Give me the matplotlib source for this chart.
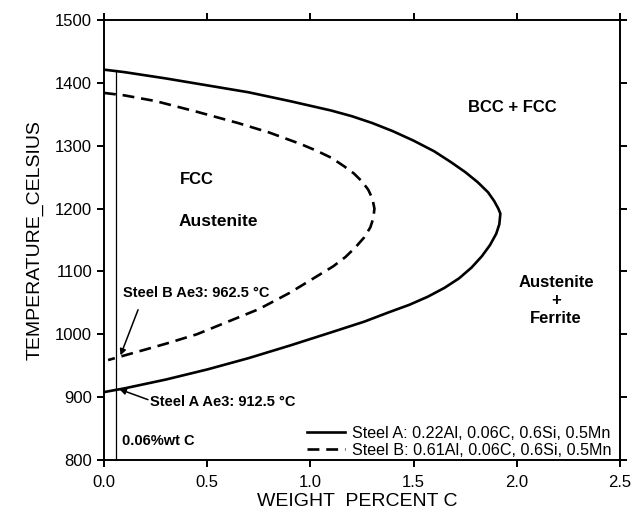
import matplotlib
matplotlib.use('Agg')
import matplotlib.pyplot as plt

plt.rcParams['font.family'] = ['Liberation Sans', 'DejaVu Sans']

# Steel A phase boundary (solid), traced from upper branch round the nose to lower branch
steelA_C = [0.00, 0.10, 0.30, 0.50, 0.70, 0.90, 1.10, 1.20, 1.30, 1.40, 1.50, 1.60, 1.68, 1.75, 1.81,
            1.86, 1.89, 1.91, 1.92, 1.915, 1.90, 1.87, 1.83, 1.78, 1.72, 1.65, 1.57, 1.48, 1.38,
            1.26, 1.10, 0.90, 0.70, 0.50, 0.30, 0.10, 0.00]
steelA_T = [1421, 1417, 1407, 1396, 1385, 1371, 1356, 1347, 1336, 1323, 1308, 1291, 1274, 1258, 1242,
            1226, 1212, 1200, 1192, 1175, 1160, 1142, 1124, 1106, 1089, 1074, 1060, 1047, 1035,
            1020, 1003, 982, 962, 944, 928, 914, 908]

# Steel B phase boundary (dashed)
steelB_C = [0.00, 0.10, 0.25, 0.45, 0.65, 0.80, 0.95, 1.03, 1.10, 1.16, 1.21, 1.25, 1.28, 1.30, 1.31,
            1.305, 1.29, 1.26, 1.22, 1.17, 1.11, 1.04, 0.97, 0.90, 0.75, 0.60, 0.45, 0.30, 0.15, 0.02]
steelB_T = [1384, 1380, 1371, 1354, 1336, 1321, 1303, 1292, 1281, 1268, 1256, 1243, 1230, 1216, 1200,
            1185, 1170, 1154, 1139, 1123, 1108, 1094, 1080, 1066, 1040, 1020, 1000, 985, 971, 959]

carbon_content = 0.06
ae3_A = 912.5
ae3_B = 962.5

labels = ['Steel A: 0.22Al, 0.06C, 0.6Si, 0.5Mn', 'Steel B: 0.61Al, 0.06C, 0.6Si, 0.5Mn']
xticks = [0.0, 0.5, 1.0, 1.5, 2.0, 2.5]
yticks = [800, 900, 1000, 1100, 1200, 1300, 1400, 1500]

fig = plt.figure(figsize=(6.36, 5.22), dpi=100)
ax = fig.add_axes([0.1635, 0.1188, 0.8115, 0.8429])

ax.plot(steelA_C, steelA_T, color='black', lw=1.9, label=labels[0])
ax.plot(steelB_C, steelB_T, color='black', lw=1.9, dashes=(4.5, 2.6), label=labels[1])

# vertical line at the steel carbon content
ax.plot([carbon_content, carbon_content], [800, steelA_T[0]], color='black', lw=0.9)

ax.set_xlim(0, 2.5)
ax.set_ylim(800, 1500)
ax.set_xticks(xticks)
ax.set_xticklabels(['%.1f' % t for t in xticks])
ax.set_yticks(yticks)
ax.tick_params(direction='out', length=5, width=1.4, labelsize=12,
               top=True, right=True, labeltop=False, labelright=False)
ax.tick_params(axis='x', pad=6)
for s in ax.spines.values():
    s.set_linewidth(1.4)

ax.set_xlabel('WEIGHT  PERCENT C', fontsize=14, labelpad=2)
ax.xaxis.set_label_coords(0.49, -0.075)
ax.set_ylabel('TEMPERATURE_CELSIUS', fontsize=14, labelpad=8)

# phase region labels
ax.text(0.368, 1247, 'FCC', fontsize=12, fontweight='bold', va='center')
ax.text(0.363, 1180, 'Austenite', fontsize=12.5, fontweight='bold', va='center')
ax.text(1.977, 1360, 'BCC + FCC', fontsize=12, fontweight='bold', ha='center', va='center')
ax.text(2.19, 1054, 'Austenite\n+\nFerrite', fontsize=12, fontweight='bold',
        ha='center', va='center', linespacing=1.25)

# Ae3 annotations
arrow = dict(arrowstyle='-|>', color='black', lw=1.1, mutation_scale=9, shrinkA=0, shrinkB=0)
ax.annotate('', xy=(0.08, ae3_B + 4), xytext=(0.165, 1039), arrowprops=arrow)
ax.text(0.092, 1066, 'Steel B Ae3: 962.5 \u00b0C', fontsize=10.5, fontweight='bold', va='center')
ax.annotate('', xy=(0.075, ae3_A), xytext=(0.213, 896), arrowprops=arrow)
ax.text(0.222, 892, 'Steel A Ae3: 912.5 \u00b0C', fontsize=10.5, fontweight='bold', va='center')
ax.text(0.087, 830, '0.06%wt C', fontsize=10.5, fontweight='bold', va='center')

ax.legend(loc='lower right', bbox_to_anchor=(0.988, 0.0), frameon=False, fontsize=11.6,
          handlelength=2.35, handletextpad=0.42, borderpad=0.15, borderaxespad=0,
          labelspacing=0.1)

plt.savefig('out.png', dpi=100)
